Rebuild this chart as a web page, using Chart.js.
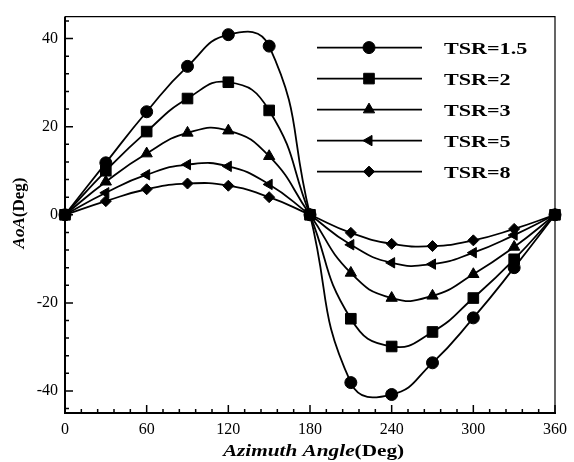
<!DOCTYPE html>
<html>
<head>
<meta charset="utf-8">
<script src="https://cdn.jsdelivr.net/npm/chart.js@4.4.0/dist/chart.umd.min.js"></script>
<style>
html, body { margin: 0; padding: 0; background: #fff; }
#wrap { width: 574px; height: 462px; }
</style>
</head>
<body>
<div id="wrap"><canvas id="canvasAoA"></canvas></div>
<script>
"use strict";

// data (Deg)
var azimuth = [0, 30, 60, 90, 120, 150, 180, 210, 240, 270, 300, 330, 360];
var tsr15 = [0, 11.8, 23.4, 33.7, 40.9, 38.3, 0, -38.1, -40.8, -33.6, -23.4, -12.0, 0];
var tsr2 = [0, 10.0, 18.9, 26.4, 30.1, 23.7, 0, -23.6, -29.9, -26.6, -18.9, -10.1, 0];
var tsr3 = [0, 7.5, 13.9, 18.6, 19.1, 13.3, 0, -13.2, -18.9, -18.4, -13.5, -7.3, 0];
var tsr5 = [0, 5.0, 9.1, 11.4, 11.0, 6.9, 0, -6.8, -10.9, -11.2, -8.6, -4.6, 0];
var tsr8 = [0, 3.1, 5.8, 7.1, 6.6, 4.0, 0, -4.1, -6.6, -7.1, -5.8, -3.2, 0];
var seriesLabels = ['TSR=1.5', 'TSR=2', 'TSR=3', 'TSR=5', 'TSR=8'];
var xTicks = [0, 60, 120, 180, 240, 300, 360];
var yTicks = [-40, -20, 0, 20, 40];

var allSeries = [tsr15, tsr2, tsr3, tsr5, tsr8];
var markers = [
	{ style: 'circle', radius: 6, rotation: 0 },
	{ style: 'rect', radius: 7.5, rotation: 0 },
	{ style: 'triangle', radius: 6.5, rotation: 0 },
	{ style: 'triangle', radius: 6, rotation: -90 },
	{ style: 'rectRot', radius: 5.5, rotation: 0 }
];

var serif = '"Liberation Serif", "Times New Roman", serif';

function toPoints(values) {
	return values.map(function (v, i) {
		return { x: azimuth[i], y: v };
	});
}

var datasets = [];
$each(allSeries, function (values, index) {
	datasets.push({
		label: seriesLabels[index],
		data: toPoints(values),
		borderColor: '#000',
		backgroundColor: '#000',
		borderWidth: 1.8,
		tension: 0.5,
		pointStyle: markers[index].style,
		pointRadius: markers[index].radius,
		pointRotation: markers[index].rotation,
		pointBorderWidth: 1,
		clip: false
	});
});

function $each(arr, fn) {
	for (var i = 0; i < arr.length; i++) fn(arr[i], i);
}

// frame + inward ticks like the original plot
var frameTicks = {
	id: 'frameTicks',
	beforeDatasetsDraw: function (chart) {
		var ctx = chart.ctx;
		var a = chart.chartArea;
		var xs = chart.scales.x, ys = chart.scales.y;
		ctx.save();
		ctx.strokeStyle = '#000';

		ctx.lineWidth = 1.2;
		ctx.beginPath();
		ctx.moveTo(a.left, a.top); ctx.lineTo(a.right, a.top);
		ctx.lineTo(a.right, a.bottom);
		ctx.stroke();

		ctx.lineWidth = 2;
		ctx.beginPath();
		ctx.moveTo(a.left, a.top); ctx.lineTo(a.left, a.bottom); ctx.lineTo(a.right + 1, a.bottom);
		ctx.stroke();

		ctx.lineWidth = 1.5;
		ctx.beginPath();
		for (var v = 0; v <= 360; v += 12) {
			var px = xs.getPixelForValue(v);
			var len = (v % 60 === 0) ? 8 : 4;
			ctx.moveTo(px, a.bottom); ctx.lineTo(px, a.bottom - len);
		}
		for (var w = -44; w <= 44; w += 4) {
			var py = ys.getPixelForValue(w);
			var len2 = (w % 20 === 0) ? 8 : 4;
			ctx.moveTo(a.left, py); ctx.lineTo(a.left + len2, py);
		}
		ctx.stroke();
		ctx.restore();
	}
};

// legend: line with marker in the middle, bold label
var lineLegend = {
	id: 'lineLegend',
	afterDraw: function (chart) {
		var ctx = chart.ctx;
		var a = chart.chartArea;
		ctx.save();
		chart.data.datasets.forEach(function (ds, i) {
			var y = a.top + 31 + i * 31;
			var x0 = a.left + 252, x1 = a.left + 357, xm = a.left + 304;
			ctx.strokeStyle = '#000';
			ctx.lineWidth = 1.8;
			ctx.beginPath();
			ctx.moveTo(x0, y); ctx.lineTo(x1, y);
			ctx.stroke();
			ctx.fillStyle = '#000';
			ctx.lineWidth = 1;
			Chart.helpers.drawPoint(ctx, {
				pointStyle: ds.pointStyle,
				radius: ds.pointRadius,
				rotation: ds.pointRotation,
				borderWidth: 1
			}, xm, y);

			ctx.save();
			ctx.translate(a.left + 379, y + 2);
			ctx.scale(1.3, 1);
			ctx.font = 'bold 17px ' + serif;
			ctx.textBaseline = 'middle';
			ctx.textAlign = 'left';
			ctx.fillText(ds.label, 0, 0);
			ctx.restore();
		});
		ctx.restore();
	}
};

// axis titles with italic name + upright unit
function drawMixed(ctx, parts, cx, baseY, stretch) {
	var total = 0;
	parts.forEach(function (p) {
		ctx.font = p.font;
		p.w = ctx.measureText(p.text).width;
		total += p.w;
	});
	ctx.save();
	ctx.translate(cx, baseY);
	ctx.scale(stretch, 1);
	var x = -total / 2;
	ctx.textBaseline = 'alphabetic';
	ctx.textAlign = 'left';
	parts.forEach(function (p) {
		ctx.font = p.font;
		ctx.fillText(p.text, x, 0);
		x += p.w;
	});
	ctx.restore();
}

var axisTitles = {
	id: 'axisTitles',
	afterDraw: function (chart) {
		var ctx = chart.ctx;
		ctx.save();
		ctx.fillStyle = '#000';
		drawMixed(ctx, [
			{ text: 'Azimuth Angle', font: 'italic bold 17px ' + serif },
			{ text: '(Deg)', font: 'bold 17px ' + serif }
		], 313.5, 456, 1.25);

		ctx.save();
		ctx.translate(24, 213);
		ctx.rotate(-Math.PI / 2);
		drawMixed(ctx, [
			{ text: 'AoA', font: 'italic bold 17px ' + serif },
			{ text: '(Deg)', font: 'bold 17px ' + serif }
		], 0, 0, 1);
		ctx.restore();
		ctx.restore();
	}
};

const context = document.getElementById('canvasAoA');
const myChart = new Chart(context, {
	type: 'line',
	data: {
		datasets: datasets
	},
	options: {
		responsive: true,
		maintainAspectRatio: false,
		animation: false,
		layout: {
			padding: { left: 0, top: 15, right: 14, bottom: 0 }
		},
		plugins: {
			legend: { display: false },
			tooltip: { enabled: false }
		},
		scales: {
			x: {
				type: 'linear',
				min: 0,
				max: 360,
				grid: { display: false, drawTicks: false },
				border: { display: false },
				afterBuildTicks: function (scale) {
					scale.ticks = xTicks.map(function (v) { return { value: v }; });
				},
				afterFit: function (scale) { scale.height = 49; },
				ticks: {
					padding: 7,
					color: '#000',
					maxRotation: 0,
					font: { family: serif, size: 16 }
				}
			},
			y: {
				type: 'linear',
				min: -45,
				max: 45,
				grid: { display: false, drawTicks: false },
				border: { display: false },
				afterBuildTicks: function (scale) {
					scale.ticks = yTicks.map(function (v) { return { value: v }; });
				},
				afterFit: function (scale) { scale.width = 65; },
				ticks: {
					padding: 7,
					color: '#000',
					font: { family: serif, size: 16 }
				}
			}
		}
	},
	plugins: [frameTicks, lineLegend, axisTitles]
});
</script>
</body>
</html>
